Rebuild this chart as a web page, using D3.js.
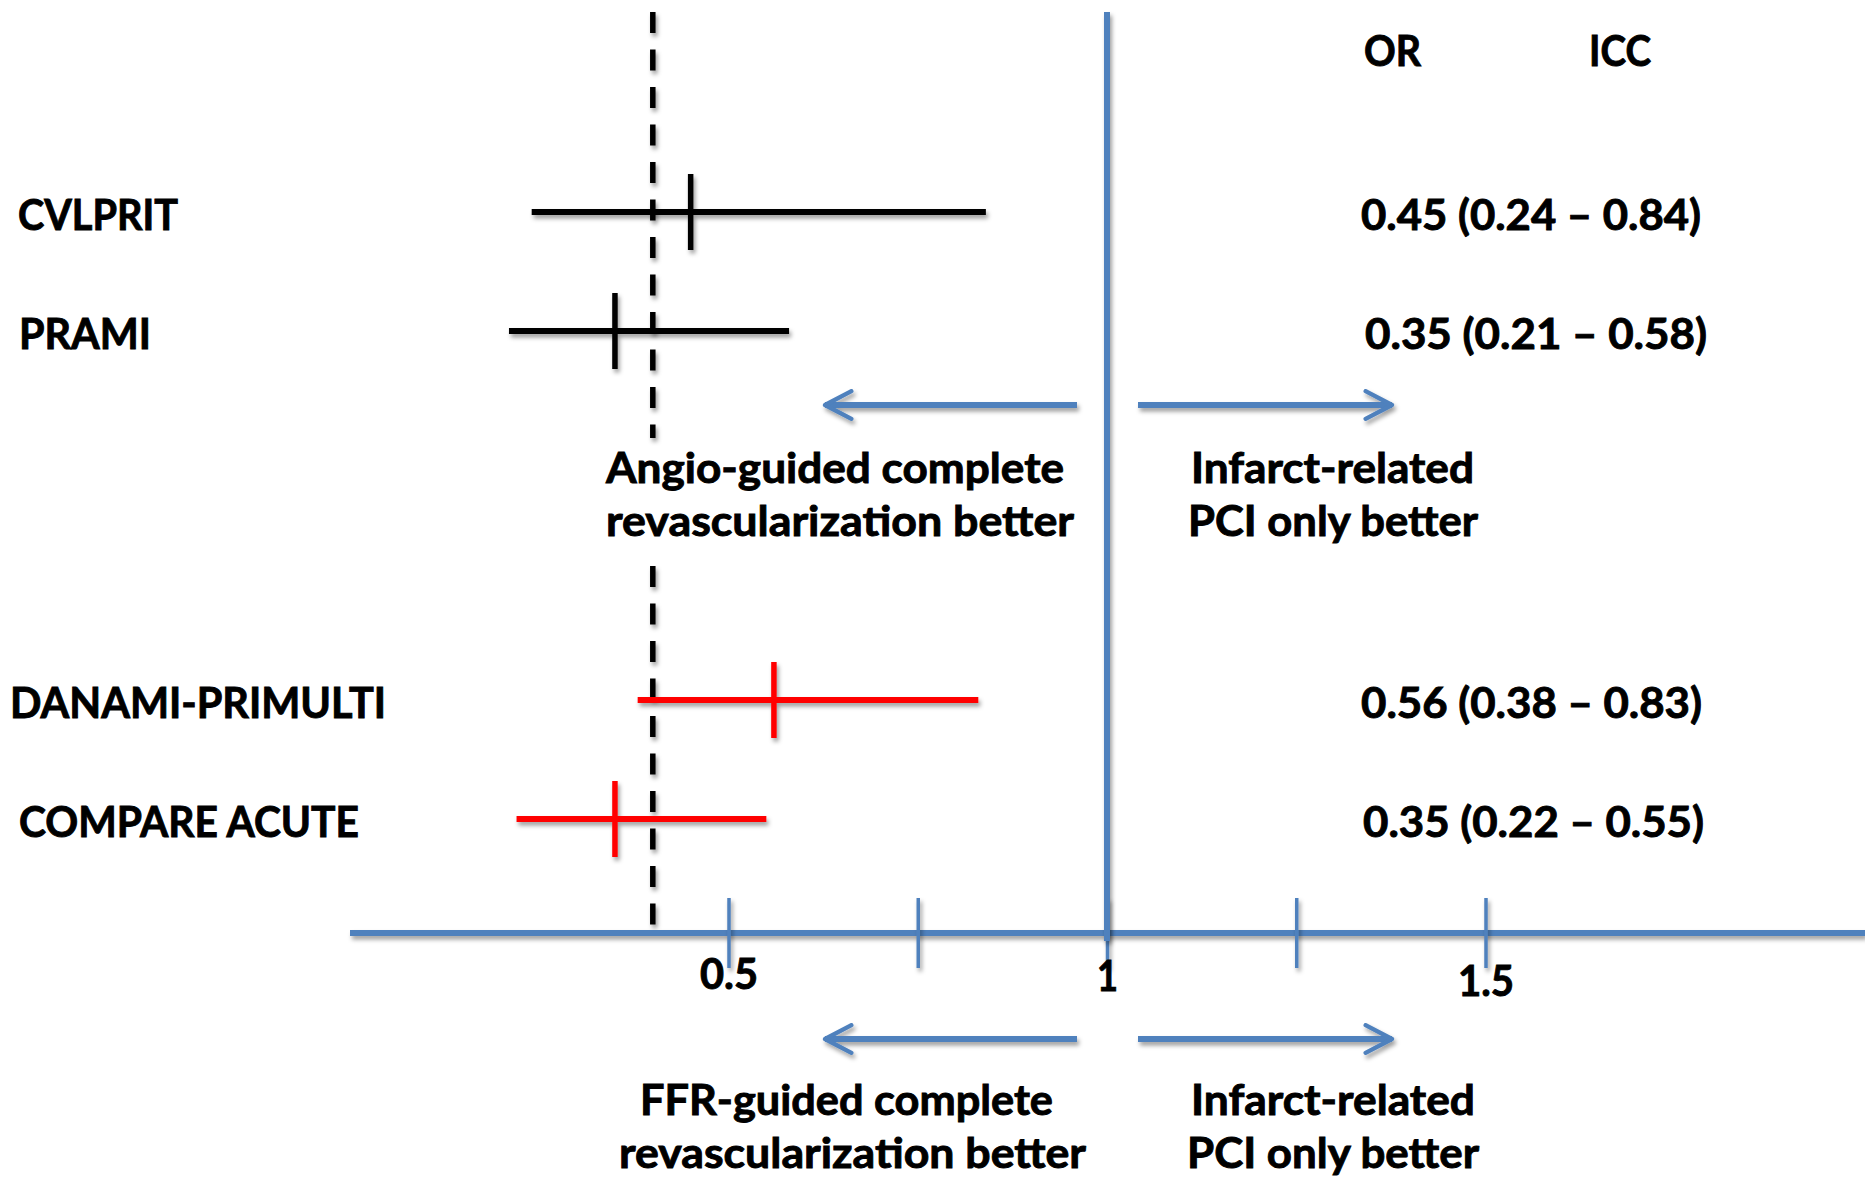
<!DOCTYPE html>
<html>
<head>
<meta charset="utf-8">
<script src="https://cdn.jsdelivr.net/npm/d3@7"></script>
<style>
  html, body { margin: 0; padding: 0; background: #fff; }
  svg text { font-family: Lato, "Open Sans", "Noto Sans", sans-serif; font-weight: 700; fill: #000;
             stroke: #000; stroke-width: 0.9px; paint-order: stroke; }
</style>
</head>
<body>
<svg id="chart" width="1865" height="1182"></svg>
<script>
// Studies, grouped: 0 = angio-guided trials, 1 = FFR-guided trials
const studies   = ["CVLPRIT", "PRAMI", "DANAMI-PRIMULTI", "COMPARE ACUTE"];
const groups    = [0, 0, 1, 1];
const oddsRatio = [0.45, 0.35, 0.56, 0.35];
const ciLower   = [0.24, 0.21, 0.38, 0.22];
const ciUpper   = [0.84, 0.58, 0.83, 0.55];

// Axis ticks and their labels
const tickValues = [0.5, 0.75, 1, 1.25, 1.5];
const tickLabels = ["0.5", "", "1", "", "1.5"];

// Pooled reference line and the line of no effect
const pooledOR = 0.4;
const noEffect = 1;

const headers = ["OR", "ICC"];
const upperCaptions = [["Angio-guided complete", "revascularization better"], ["Infarct-related", "PCI only better"]];
const lowerCaptions = [["FFR-guided complete", "revascularization better"], ["Infarct-related", "PCI only better"]];

const groupColor = ["#000000", "#ff0000"];
const blue = "#4f81bd";

// text box layout: left edge and set width of each text run
const FONT = 42;
const nameX = [18, 19, 10, 19];
const nameW = [160, 132, 376, 340];
const valueX = [1361, 1365, 1361, 1363];
const valueW = [340, 342, 341, 341];
const headerX = [1364, 1589];
const headerW = [57, 62];
const upperCapX = [[606, 606], [1191, 1188]];
const upperCapW = [[458, 468], [283, 290]];
const lowerCapX = [[640, 619], [1191, 1187]];
const lowerCapW = [[413, 467], [284, 292]];
const tickLabelW = [58, 0, 21, 0, 56];
const tickLabelDy = [0, 0, 2, 0, 7];

const svg = d3.select("#chart");

// soft drop shadow like the original slide lines
const defs = svg.append("defs");
defs.append("filter").attr("id", "shadow")
  .attr("filterUnits", "userSpaceOnUse")
  .attr("x", -3000).attr("y", -3000).attr("width", 8000).attr("height", 8000)
  .append("feDropShadow")
  .attr("dx", 2).attr("dy", 3.5).attr("stdDeviation", 2.2)
  .attr("flood-color", "#000").attr("flood-opacity", 0.38);

const x = d3.scaleLinear().domain([0, 2]).range([350, 1864]);
const axisY = 933;

// rows: the second group sits lower to leave room for the captions
const y = d3.scaleLinear().domain([0, 5.1]).range([212, 819]);
const rows = studies.map((s, i) => ({
  i, name: s, group: groups[i], or: oddsRatio[i], lo: ciLower[i], hi: ciUpper[i],
  slot: i + groups[i] * 2.1
}));

function fit(sel, w) {
  sel.attr("textLength", w).attr("lengthAdjust", "spacingAndGlyphs");
}

// dashed pooled line, interrupted by the caption text
const dashSegments = [[12, 438], [566, axisY]];
svg.append("g").attr("filter", "url(#shadow)")
  .selectAll("line").data(dashSegments).join("line")
  .attr("x1", x(pooledOR)).attr("x2", x(pooledOR))
  .attr("y1", d => d[0]).attr("y2", d => d[1])
  .attr("stroke", "#000").attr("stroke-width", 5.5)
  .attr("stroke-dasharray", "21 16.5");

// x axis
const axis = d3.axisBottom(x)
  .tickValues(tickValues)
  .tickSizeInner(35).tickSizeOuter(0)
  .tickFormat((d, i) => tickLabels[i]);

const gAxis = svg.append("g")
  .attr("transform", `translate(0,${axisY})`)
  .call(axis);
gAxis.select(".domain").attr("stroke", blue).attr("stroke-width", 6)
  .attr("d", `M${x(0)},0H${1865}`).attr("filter", "url(#shadow)");
gAxis.selectAll(".tick line").attr("stroke", blue).attr("stroke-width", 3.5)
  .attr("y1", -35).attr("y2", 35).attr("filter", "url(#shadow)");
gAxis.selectAll(".tick text")
  .attr("font-size", FONT).attr("y", (d, i) => 26 + tickLabelDy[i]).attr("fill", "#000")
  .attr("font-family", "Lato, 'Open Sans', sans-serif").attr("font-weight", 700)
  .each(function (d, i) { if (tickLabelW[i]) fit(d3.select(this), tickLabelW[i]); });

// line of no effect
svg.append("line")
  .attr("x1", x(noEffect)).attr("x2", x(noEffect))
  .attr("y1", 12).attr("y2", 941)
  .attr("stroke", blue).attr("stroke-width", 6)
  .attr("filter", "url(#shadow)");

// confidence intervals and point estimates
const gRows = svg.append("g").selectAll("g").data(rows).join("g")
  .attr("filter", "url(#shadow)");
gRows.append("line")
  .attr("x1", d => x(d.lo)).attr("x2", d => x(d.hi))
  .attr("y1", d => y(d.slot)).attr("y2", d => y(d.slot))
  .attr("stroke", d => groupColor[d.group]).attr("stroke-width", 6);
gRows.append("line")
  .attr("x1", d => x(d.or)).attr("x2", d => x(d.or))
  .attr("y1", d => y(d.slot) - 38).attr("y2", d => y(d.slot) + 38)
  .attr("stroke", d => groupColor[d.group]).attr("stroke-width", 5.5);

// study names
svg.append("g").selectAll("text").data(rows).join("text")
  .attr("x", d => nameX[d.i]).attr("y", d => y(d.slot) + 18)
  .attr("font-size", FONT)
  .attr("textLength", d => nameW[d.i]).attr("lengthAdjust", "spacingAndGlyphs")
  .text(d => d.name);

// OR (95% CI) column
const fmt = d3.format(".2f");
svg.append("g").selectAll("text").data(rows).join("text")
  .attr("x", d => valueX[d.i]).attr("y", d => y(d.slot) + 18)
  .attr("font-size", FONT)
  .attr("textLength", d => valueW[d.i]).attr("lengthAdjust", "spacingAndGlyphs")
  .text(d => `${fmt(d.or)} (${fmt(d.lo)} \u2013 ${fmt(d.hi)})`);

// column headers
svg.append("g").selectAll("text").data(headers).join("text")
  .attr("x", (d, i) => headerX[i]).attr("y", 66)
  .attr("font-size", FONT)
  .attr("textLength", (d, i) => headerW[i]).attr("lengthAdjust", "spacingAndGlyphs")
  .text(d => d);

// direction arrows
defs.append("marker").attr("id", "chev")
  .attr("viewBox", "0 0 10 10").attr("refX", 9).attr("refY", 5)
  .attr("markerWidth", 5.5).attr("markerHeight", 5.5).attr("markerUnits", "strokeWidth")
  .attr("orient", "auto")
  .append("path").attr("d", "M1,0.8 L9,5 L1,9.2")
  .attr("fill", "none").attr("stroke", blue).attr("stroke-width", 1.3)
  .attr("stroke-linecap", "round").attr("stroke-linejoin", "round");

function arrows(yy) {
  const g = svg.append("g").attr("filter", "url(#shadow)");
  const x1 = x(noEffect);
  [[x1 - 30, x1 - 282], [x1 + 31, x1 + 285]].forEach(([a, b]) => {
    g.append("line").attr("x1", a).attr("x2", b).attr("y1", yy).attr("y2", yy)
      .attr("stroke", blue).attr("stroke-width", 6)
      .attr("marker-end", "url(#chev)");
  });
}
arrows(405);
arrows(1039);

// captions under the arrows
function captions(lines, base, xs, ws) {
  lines.forEach((pair, j) => {
    svg.append("g").selectAll("text").data(pair).join("text")
      .attr("x", (d, i) => xs[j][i]).attr("y", (d, i) => base + i * 53)
      .attr("font-size", FONT)
      .attr("textLength", (d, i) => ws[j][i]).attr("lengthAdjust", "spacingAndGlyphs")
      .text(d => d);
  });
}
captions(upperCaptions, 483, upperCapX, upperCapW);
captions(lowerCaptions, 1115, lowerCapX, lowerCapW);
</script>
</body>
</html>
